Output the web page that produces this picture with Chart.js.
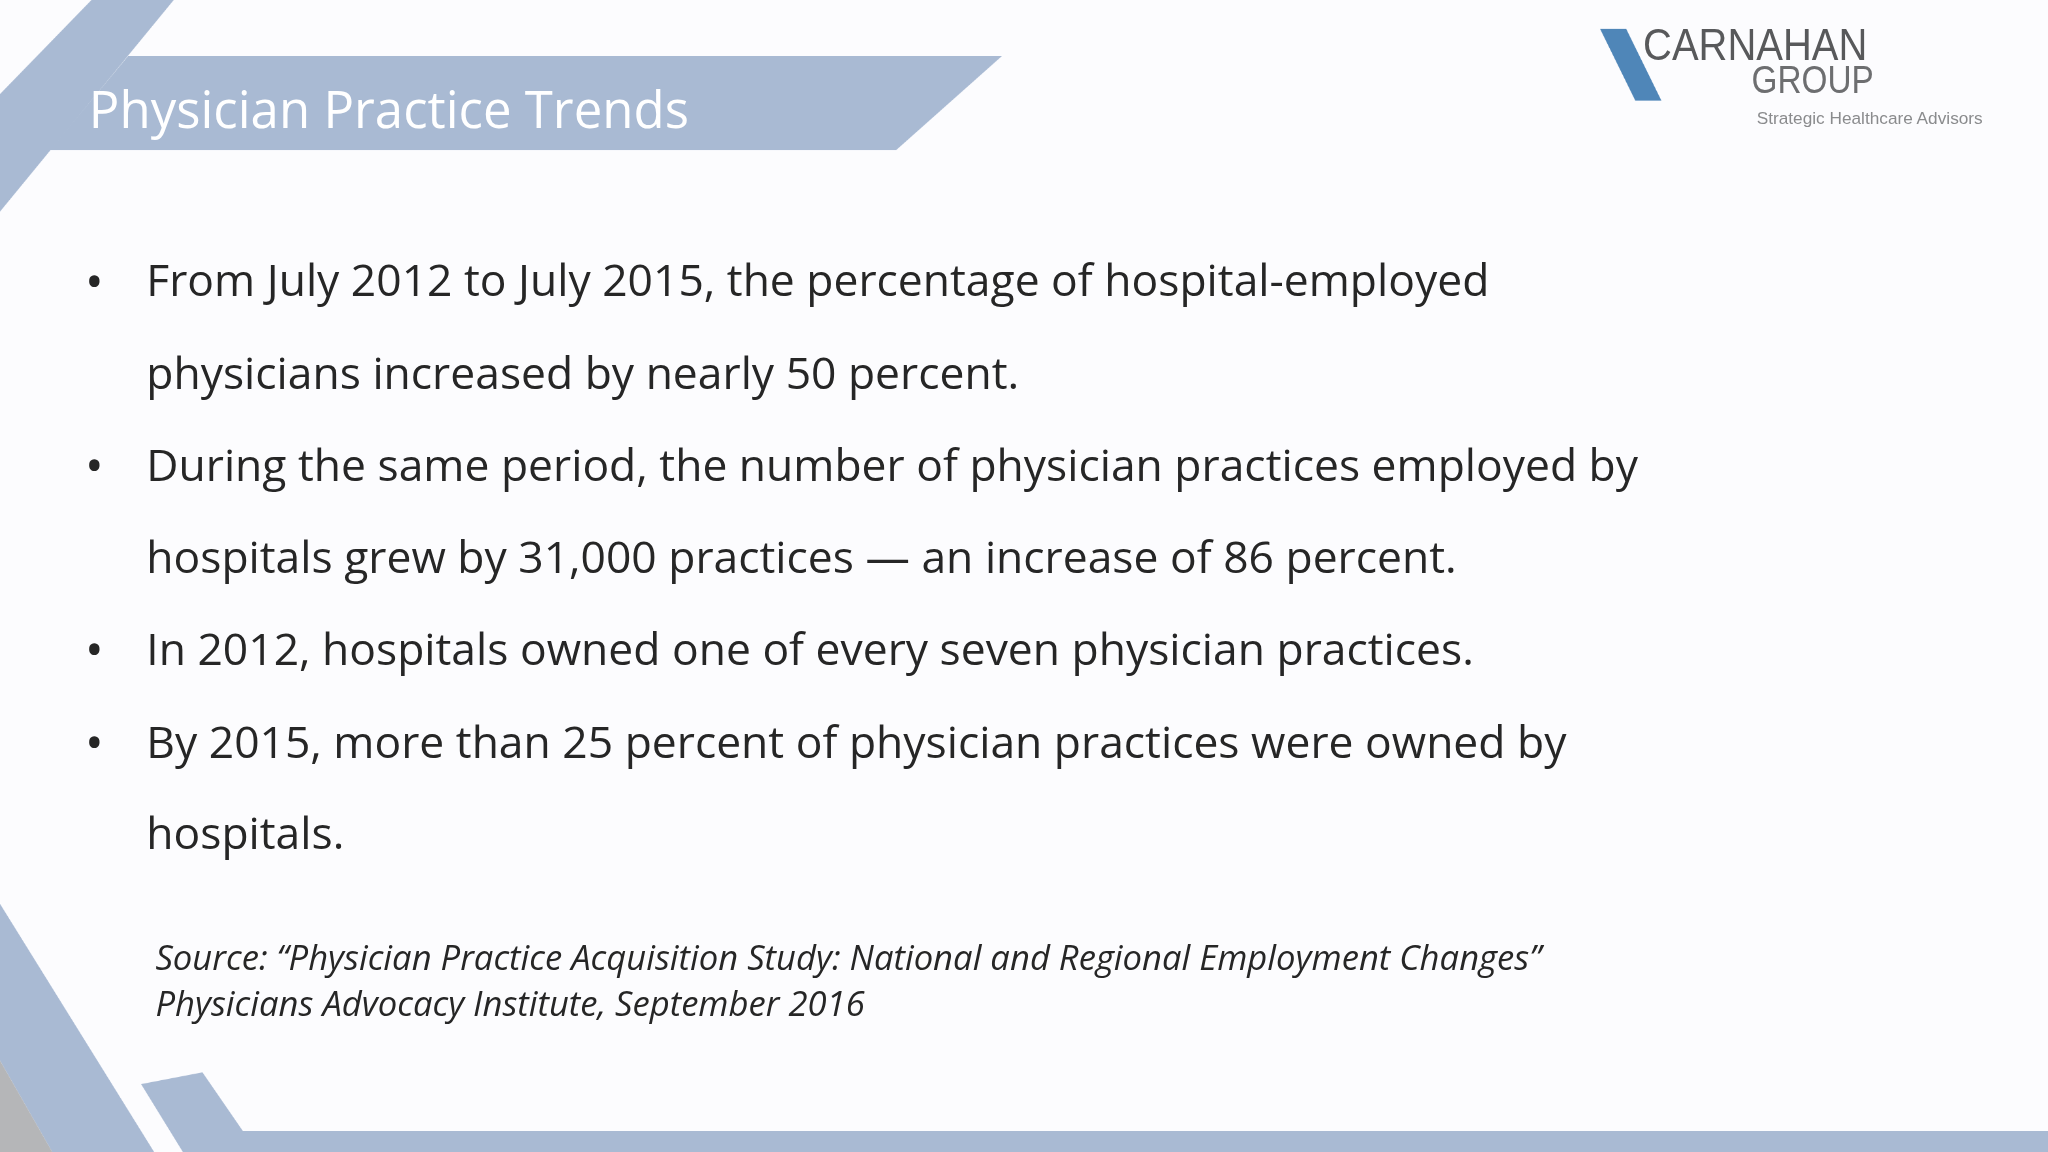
<!DOCTYPE html>
<html><head><meta charset="utf-8">
<script src="https://cdn.jsdelivr.net/npm/chart.js@4/dist/chart.umd.min.js"></script>
<style>
html,body{margin:0;padding:0;background:#fdfdfe;overflow:hidden}
#slide{position:absolute;left:0;top:0;width:1568px;height:882px;transform:scale(1.30612);transform-origin:0 0;background:#fcfcfe}
#bg{position:absolute;left:0;top:0}
.t{position:absolute;white-space:nowrap}
#title{left:68px;top:56px;font:39px "Open Sans",sans-serif;color:#fff}
.b{font:34px "Open Sans",sans-serif;color:#262626;left:112px}
.dot{font:38px "Open Sans",sans-serif;color:#262626;left:65px;margin-top:-3px}
.src{font:italic 26.5px "Open Sans",sans-serif;color:#262626;left:119px}
.logo{font-family:"Liberation Sans",Arial,sans-serif;color:#58595b}
</style></head><body>
<div id="slide">
<canvas id="bg" width="1568" height="882" style="width:1568px;height:882px"></canvas>
<div class="t" id="title">Physician Practice Trends</div>
<div class="t logo" style="left:1258px;top:15px;font-size:34px;transform:scaleX(0.9);transform-origin:0 0">CARNAHAN</div>
<div class="t logo" style="left:1341px;top:45px;font-size:29px;color:#6d6e70;transform:scaleX(0.88);transform-origin:0 0">GROUP</div>
<div class="t logo" style="left:1345px;top:83px;font-size:13.2px;color:#8a8b8d">Strategic Healthcare Advisors</div>
<div id="lines"></div>
</div>
<script>
const bullets = [
  ['From July 2012 to July 2015, the percentage of hospital-employed', 'physicians increased by nearly 50 percent.'],
  ['During the same period, the number of physician practices employed by', 'hospitals grew by 31,000 practices \u2014 an increase of 86 percent.'],
  ['In 2012, hospitals owned one of every seven physician practices.'],
  ['By 2015, more than 25 percent of physician practices were owned by', 'hospitals.']
];
const sourceLines = [
  'Source: \u201cPhysician Practice Acquisition Study: National and Regional Employment Changes\u201d',
  'Physicians Advocacy Institute, September 2016'
];

// decorative slide shapes, drawn on the chart area in pixel space
const shapes = [
  {c:'#a9bad3', p:[[0,72],[70,0],[133,0],[0,162]]},
  {c:'#a9bad3', p:[[98,43],[767,43],[686,115],[38,115]]},
  {c:'#a9bad3', p:[[0,692],[118,882],[40,882],[0,812]]},
  {c:'#b5b6b8', p:[[0,812],[40,882],[0,882]]},
  {c:'#a9bad3', p:[[108,830],[155,821],[186,866],[1568,866],[1568,882],[140,882]]},
  {c:'#4f86b8', p:[[1225,22],[1245,22],[1272,77],[1252,77]]}
];

let html = '', y = 191;
bullets.forEach(b => {
  html += `<div class="t dot" style="top:${y}px">\u2022</div>`;
  b.forEach(l => { html += `<div class="t b" style="top:${y}px">${l}</div>`; y += 70.5; });
});
sourceLines.forEach((l, i) => { html += `<div class="t src" style="top:${715 + i*35}px">${l}</div>`; });
document.getElementById('lines').innerHTML = html;

const shapePlugin = {
  id: 'shapes',
  beforeDraw(chart) {
    const ctx = chart.ctx;
    shapes.forEach(s => {
      ctx.beginPath();
      s.p.forEach((pt, i) => i ? ctx.lineTo(pt[0], pt[1]) : ctx.moveTo(pt[0], pt[1]));
      ctx.closePath();
      ctx.fillStyle = s.c;
      ctx.fill();
    });
  }
};

new Chart(document.getElementById('bg'), {
  type: 'scatter',
  data: { datasets: [{ data: [] }] },
  options: {
    responsive: false, animation: false, devicePixelRatio: 2,
    layout: { padding: 0 },
    plugins: { legend: { display: false }, tooltip: { enabled: false } },
    scales: { x: { display: false }, y: { display: false } }
  },
  plugins: [shapePlugin]
});
</script>
</body></html>
